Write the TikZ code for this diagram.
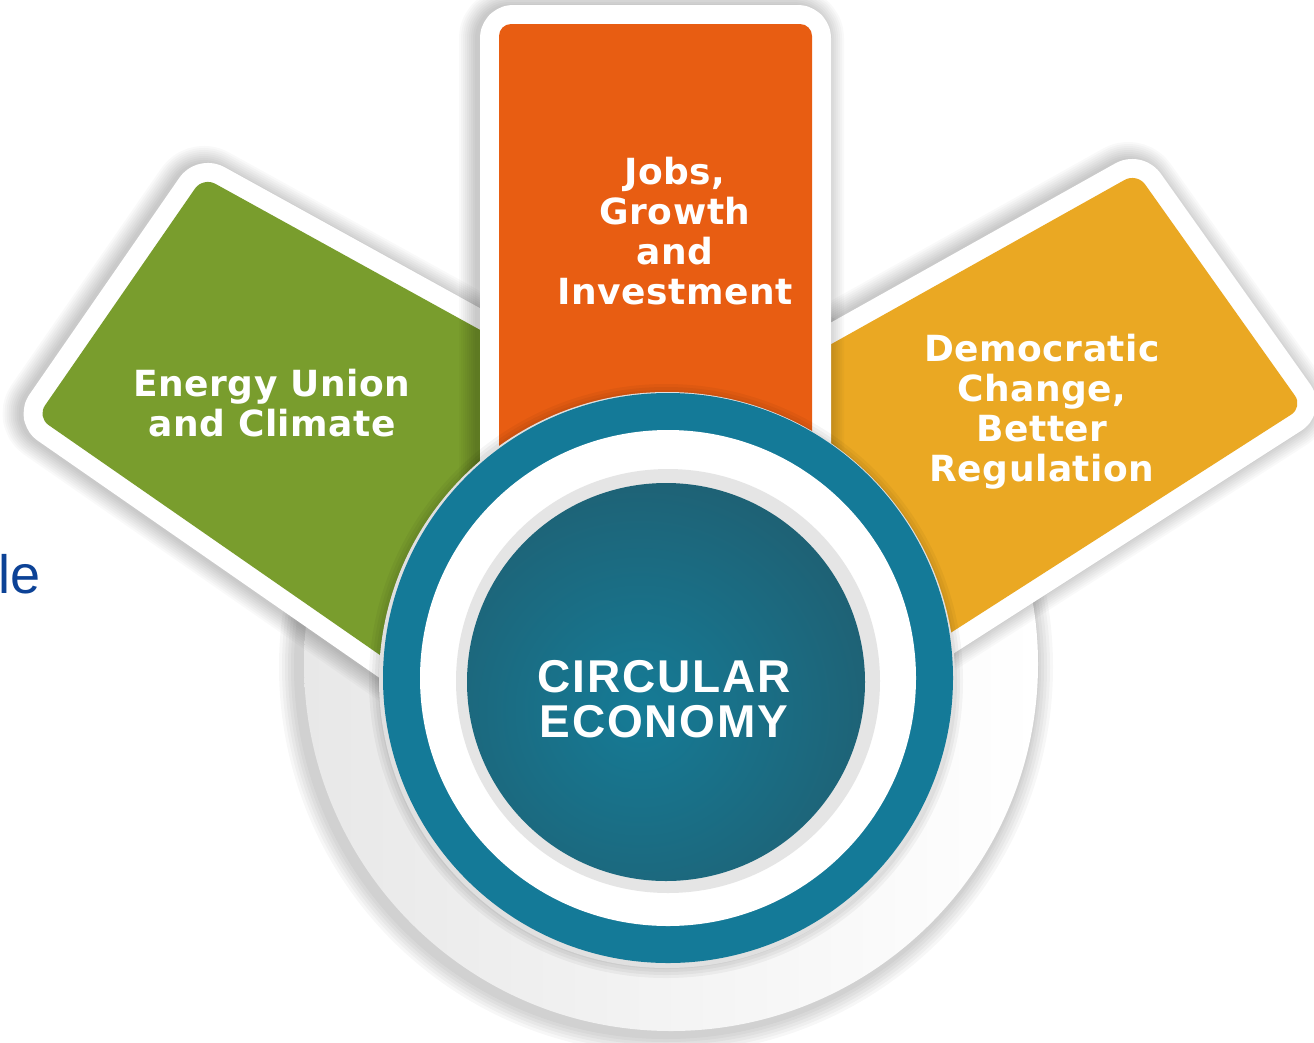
\documentclass[tikz,border=0pt]{standalone}
\usepackage{fontspec}
\setmainfont{DejaVu Sans}
\newfontfamily\labelfont[LetterSpace=1.5]{DejaVu Sans}
\newfontfamily\hubfont[LetterSpace=4]{Liberation Sans}
\newfontfamily\sidefont{Liberation Sans}
\definecolor{cardgreen}{RGB}{121,157,45}
\definecolor{cardorange}{RGB}{232,93,18}
\definecolor{cardyellow}{RGB}{234,168,35}
\definecolor{ringteal}{RGB}{20,122,152}
\definecolor{hubteal}{RGB}{21,123,150}
\definecolor{hubdark}{RGB}{31,96,115}
\definecolor{textblue}{RGB}{12,66,150}
\newcommand\cardshadow[1]{%
  \foreach \w in {40,44,...,72}{\draw[black, opacity=0.025, line width=\w pt, line join=round, rounded corners=14pt] #1;}}
\begin{document}
\begin{tikzpicture}[x=1pt,y=-1pt,
    cardedge/.style={draw=white, line width=38pt, line join=round, rounded corners=14pt},
    cardtext/.style={text=white, align=center, font=\labelfont\bfseries\fontsize{36}{40}\selectfont},
    hubtext/.style={text=white, align=center, font=\hubfont\bfseries\fontsize{46}{45}\selectfont}]
    \useasboundingbox (0,0) rectangle (1314,1042);
    \fill[white] (0,0) rectangle (1314,1042);

    \foreach \w in {4,10,...,34}{\draw[black, opacity=0.03, line width=\w pt] (666,667) circle (370);}
    \fill[black!18] (668,667) circle (371);
    \shade[left color=black!9, right color=white] (671,664) circle (367);

    \begin{scope}[xshift=-4pt]
      \cardshadow{(203,177) -- (560,374) -- (560,780) -- (37,417) -- cycle}
    \end{scope}
    \path[cardedge, fill=white] (203,177) -- (560,374) -- (560,780) -- (37,417) -- cycle;
    \fill[cardgreen, rounded corners=14pt] (203,177) -- (560,374) -- (560,780) -- (37,417) -- cycle;

    \begin{scope}[xshift=-4pt]
      \cardshadow{(1137,173) -- (1303,407) -- (760,755) -- (760,384) -- cycle}
    \end{scope}
    \path[cardedge, fill=white] (1137,173) -- (1303,407) -- (760,755) -- (760,384) -- cycle;
    \fill[cardyellow, rounded corners=14pt] (1137,173) -- (1303,407) -- (760,755) -- (760,384) -- cycle;

    \begin{scope}[xshift=-4pt]
      \cardshadow{(499,24) rectangle (812,640)}
    \end{scope}
    \path[cardedge, fill=white] (499,24) rectangle (812,640);
    \fill[cardorange, rounded corners=12pt] (499,24) rectangle (812,640);

    \foreach \w in {4,10,...,22}{\draw[black, opacity=0.04, line width=\w pt] (666,681) circle (286);}
    \fill[black!12] (667,680) circle (288);
    \fill[ringteal] (668,678) circle (285);
    \fill[white] (668,678) circle (248);
    \fill[black!10] (668,681) circle (212);
    \begin{scope}
      \clip (666,682) circle (199);
      \shade[inner color=hubteal, outer color=hubdark] (640,710) circle (250);
    \end{scope}

    \node[cardtext] (jobs) at (675,231) {Jobs,\\Growth\\and\\Investment};
    \node[cardtext] (energy) at (272,403) {Energy Union\\and Climate};
    \node[cardtext] (democratic) at (1042,412) {Democratic\\Change,\\Better\\Regulation};
    \node[hubtext] (hub) at (664,699) {CIRCULAR\\ECONOMY};
    \node[text=textblue, anchor=base west, inner sep=0pt, font=\sidefont\fontsize{54}{60}\selectfont] (cut) at (-2,593) {le};
\end{tikzpicture}
\end{document}
